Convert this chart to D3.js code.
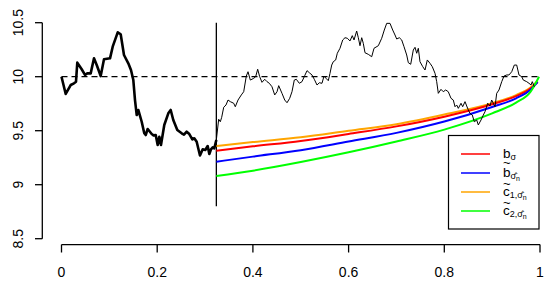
<!DOCTYPE html>
<html>
<head>
<meta charset="utf-8">
<script src="https://cdn.jsdelivr.net/npm/d3@7"></script>
<style>
  body { margin: 0; background: #fff; }
  svg { display: block; font-family: "Liberation Sans", Arial, sans-serif; }
</style>
</head>
<body>
<script>
// observed path before the split (thick part)
var tPast = [0, 0.0088, 0.0192, 0.0261, 0.0303, 0.0330, 0.0422, 0.0491, 0.0539, 0.0610,
  0.0679, 0.0736, 0.0819, 0.0888, 0.1014, 0.1070, 0.1175, 0.1237, 0.1306, 0.1396,
  0.1452, 0.1501, 0.1536, 0.1572, 0.1605, 0.1676, 0.1730, 0.1760, 0.1801, 0.1835,
  0.1885, 0.1923, 0.1969, 0.2010, 0.2044, 0.2079, 0.2148, 0.2232, 0.2282, 0.2336,
  0.2420, 0.2512, 0.2560, 0.2616, 0.2671, 0.2734, 0.2775, 0.2825, 0.2894, 0.2951,
  0.3005, 0.3055, 0.3089, 0.3124, 0.3160, 0.3193, 0.3236];
var vPast = [10.00, 9.84, 9.923, 9.939, 9.954, 10.13, 10.069, 10.016, 10.031, 10.031,
  10.17, 10.108, 10.006, 10.161, 10.17, 10.278, 10.411, 10.393, 10.201, 10.124,
  10.062, 9.969, 9.784, 9.645, 9.692, 9.583, 9.476, 9.46, 9.516, 9.497,
  9.469, 9.457, 9.46, 9.368, 9.444, 9.368, 9.553, 9.661, 9.692, 9.599,
  9.506, 9.476, 9.463, 9.491, 9.469, 9.42, 9.43, 9.398, 9.27, 9.328,
  9.321, 9.358, 9.284, 9.328, 9.346, 9.337, 9.414];

// path after the split (thin part)
var tFuture = [0.3236, 0.3285, 0.3319, 0.3348, 0.3390, 0.3438, 0.3480, 0.3528, 0.3599, 0.3632,
  0.3689, 0.3758, 0.3808, 0.3862, 0.3898, 0.3946, 0.4017, 0.4058, 0.4100, 0.4142,
  0.4190, 0.4247, 0.4295, 0.4343, 0.4399, 0.4456, 0.4504, 0.4539, 0.4608, 0.4665,
  0.4713, 0.4769, 0.4817, 0.4865, 0.4907, 0.4970, 0.5026, 0.5082, 0.5131, 0.5179,
  0.5235, 0.5283, 0.5340, 0.5388, 0.5444, 0.5486, 0.5528, 0.5576, 0.5611, 0.5647,
  0.5680, 0.5730, 0.5764, 0.5820, 0.5877, 0.5925, 0.5973, 0.6029, 0.6077, 0.6113,
  0.6169, 0.6203, 0.6238, 0.6274, 0.6307, 0.6343, 0.6412, 0.6483, 0.6531, 0.6621,
  0.6692, 0.6746, 0.6796, 0.6865, 0.6922, 0.6970, 0.7005, 0.7060, 0.7110, 0.7158,
  0.7214, 0.7248, 0.7298, 0.7352, 0.7388, 0.7423, 0.7457, 0.7492, 0.7549, 0.7597,
  0.7645, 0.7701, 0.7749, 0.7806, 0.7841, 0.7875, 0.7931, 0.7979, 0.8029, 0.8083,
  0.8140, 0.8188, 0.8224, 0.8259, 0.8293, 0.8349, 0.8384, 0.8433, 0.8468, 0.8502,
  0.8537, 0.8585, 0.8627, 0.8677, 0.8711, 0.8767, 0.8815, 0.8851, 0.8907, 0.8955,
  0.8990, 0.9024, 0.9060, 0.9095, 0.9143, 0.9200, 0.9248, 0.9304, 0.9352, 0.9409,
  0.9463, 0.9513, 0.9561, 0.9618, 0.9651, 0.9722, 0.9770, 0.9812, 0.9839, 0.9881];
var vFuture = [9.414, 9.606, 9.583, 9.624, 9.717, 9.738, 9.784, 9.769, 9.754, 9.722,
  9.784, 9.831, 9.861, 10.006, 10.046, 9.969, 9.985, 10.0, 10.069, 10.0,
  9.948, 9.976, 9.954, 9.939, 9.907, 9.831, 9.861, 9.917, 9.846, 9.784,
  9.759, 9.80, 9.861, 9.969, 9.976, 9.939, 9.954, 10.009, 10.056, 10.037,
  10.016, 9.976, 9.923, 9.944, 9.939, 10.006, 9.985, 9.963, 10.031, 10.108,
  10.139, 10.155, 10.217, 10.263, 10.34, 10.361, 10.356, 10.331, 10.38, 10.34,
  10.423, 10.361, 10.287, 10.361, 10.309, 10.222, 10.207, 10.185, 10.263, 10.287,
  10.356, 10.432, 10.494, 10.494, 10.432, 10.386, 10.349, 10.361, 10.34, 10.278,
  10.201, 10.13, 10.115, 10.247, 10.272, 10.217, 10.263, 10.139, 10.093, 10.062,
  10.155, 10.124, 10.093, 10.031, 9.954, 9.846, 9.883, 9.861, 9.877, 9.861,
  9.80, 9.784, 9.722, 9.738, 9.707, 9.754, 9.722, 9.769, 9.729, 9.692,
  9.661, 9.645, 9.583, 9.599, 9.553, 9.599, 9.645, 9.676, 9.754, 9.729,
  9.784, 9.754, 9.722, 9.846, 9.877, 9.954, 10.006, 10.016, 10.016, 10.046,
  10.108, 10.108, 10.016, 10.0, 9.969, 9.954, 9.939, 9.923, 9.954, 9.907];

// boundary curves
var tCurve = [0.3236, 0.4, 0.5, 0.6, 0.7, 0.8, 0.9, 0.95, 0.98, 0.995];
var bSigma = [9.315, 9.355, 9.405, 9.47, 9.54, 9.63, 9.745, 9.82, 9.89, 9.95];
var bHat   = [9.213, 9.26, 9.32, 9.40, 9.48, 9.585, 9.72, 9.80, 9.88, 9.95];
var c1Hat  = [9.358, 9.395, 9.44, 9.50, 9.56, 9.65, 9.755, 9.83, 9.90, 9.96];
var tC2    = [0.3236, 0.4, 0.5, 0.6, 0.7, 0.8, 0.9, 0.95, 0.98, 0.998];
var c2Hat  = [9.08, 9.13, 9.21, 9.30, 9.40, 9.51, 9.66, 9.76, 9.86, 10.0];

var strike = 10;
var splitT = 0.3236;
var xTicks = [0, 0.2, 0.4, 0.6, 0.8, 1];
var yTicks = [8.5, 9, 9.5, 10, 10.5];

var width = 550, height = 286;

var x = d3.scaleLinear().domain([0, 1]).range([61.5, 540]);
var y = d3.scaleLinear().domain([8.5, 10.5]).range([238.7, 22.7]);

var svg = d3.select("body").append("svg")
    .attr("width", width)
    .attr("height", height);

var line = d3.line()
    .x(function(d) { return x(d[0]); })
    .y(function(d) { return y(d[1]); });

function pairs(ts, vs) {
    return ts.map(function(t, i) { return [t, vs[i]]; });
}

// y axis
var yAxis = svg.append("g");
yAxis.append("line")
    .attr("x1", 42.3).attr("x2", 42.3)
    .attr("y1", y(8.5)).attr("y2", y(10.5))
    .attr("stroke", "black").attr("stroke-width", 1.3);
yAxis.selectAll(".tk").data(yTicks).enter().append("line")
    .attr("x1", 35).attr("x2", 42.3)
    .attr("y1", function(d) { return y(d); })
    .attr("y2", function(d) { return y(d); })
    .attr("stroke", "black").attr("stroke-width", 1.3);
yAxis.selectAll("text").data(yTicks).enter().append("text")
    .attr("transform", function(d) { return "translate(23," + y(d) + ") rotate(-90)"; })
    .attr("text-anchor", "middle")
    .attr("font-size", 14)
    .text(function(d) { return d; });

// x axis
var xAxis = svg.append("g");
xAxis.append("line")
    .attr("x1", x(0)).attr("x2", x(1))
    .attr("y1", 244.6).attr("y2", 244.6)
    .attr("stroke", "black").attr("stroke-width", 1.3);
xAxis.selectAll(".tk").data(xTicks).enter().append("line")
    .attr("x1", function(d) { return x(d); })
    .attr("x2", function(d) { return x(d); })
    .attr("y1", 244.6).attr("y2", 252.5)
    .attr("stroke", "black").attr("stroke-width", 1.3);
xAxis.selectAll("text").data(xTicks).enter().append("text")
    .attr("x", function(d) { return x(d); })
    .attr("y", 277)
    .attr("text-anchor", "middle")
    .attr("font-size", 14)
    .text(function(d) { return d; });

// strike level
svg.append("line")
    .attr("x1", x(0)).attr("x2", x(1))
    .attr("y1", y(strike)).attr("y2", y(strike))
    .attr("stroke", "black").attr("stroke-width", 1.2)
    .attr("stroke-dasharray", "6,4");

// split time
svg.append("line")
    .attr("x1", x(splitT)).attr("x2", x(splitT))
    .attr("y1", y(10.5)).attr("y2", y(8.8))
    .attr("stroke", "black").attr("stroke-width", 1.3);

// boundaries
var curves = [
    { t: tCurve, v: c1Hat, color: "#ffa500" },
    { t: tCurve, v: bSigma, color: "#ff0000" },
    { t: tCurve, v: bHat, color: "#0000ff" },
    { t: tC2, v: c2Hat, color: "#00ff00" }
];
var curveLine = d3.line()
    .x(function(d) { return x(d[0]); })
    .y(function(d) { return y(d[1]); })
    .curve(d3.curveMonotoneX);
curves.forEach(function(c) {
    svg.append("path")
        .attr("d", curveLine(pairs(c.t, c.v)))
        .attr("fill", "none")
        .attr("stroke", c.color)
        .attr("stroke-width", 2);
});

// price paths
svg.append("path")
    .attr("d", line(pairs(tFuture, vFuture)))
    .attr("fill", "none")
    .attr("stroke", "black")
    .attr("stroke-width", 1);

svg.append("path")
    .attr("d", line(pairs(tPast, vPast)))
    .attr("fill", "none")
    .attr("stroke", "black")
    .attr("stroke-width", 2.6)
    .attr("stroke-linejoin", "round");

// legend
var legend = svg.append("g");
legend.append("rect")
    .attr("x", 448.5).attr("y", 135.5)
    .attr("width", 90.5).attr("height", 93.5)
    .attr("fill", "white")
    .attr("stroke", "black").attr("stroke-width", 1.2);

var items = [
    { color: "#ff0000", base: "b", tilde: false, sub: "σ", hat: false, n: "" },
    { color: "#0000ff", base: "b", tilde: true, sub: "σ", hat: true, n: "n" },
    { color: "#ffa500", base: "c", tilde: true, sub: "1,σ", hat: true, n: "n" },
    { color: "#00ff00", base: "c", tilde: true, sub: "2,σ", hat: true, n: "n" }
];
items.forEach(function(it, i) {
    var ly = 154 + i * 19;
    var base = i === 0 ? ly + 4.3 : ly + 3.5;
    legend.append("line")
        .attr("x1", 461).attr("x2", 490)
        .attr("y1", ly).attr("y2", ly)
        .attr("stroke", it.color).attr("stroke-width", 1.5);
    var txt = legend.append("text")
        .attr("x", 503).attr("y", base)
        .attr("font-size", 13.5);
    txt.append("tspan").text(it.base);
    txt.append("tspan")
        .attr("font-size", 9)
        .attr("dy", 2)
        .text(it.sub + (it.hat ? "\u0302" : ""));
    if (it.n) {
        txt.append("tspan")
            .attr("font-size", 7)
            .attr("dy", 2)
            .text(it.n);
    }
    if (it.tilde) {
        // tilde drawn above the letter, lower for the short "c"
        legend.append("text")
            .attr("x", 503)
            .attr("y", it.base === "b" ? base - 9.2 : base - 7.6)
            .attr("font-size", 13)
            .text("~");
    }
});
</script>
</body>
</html>
